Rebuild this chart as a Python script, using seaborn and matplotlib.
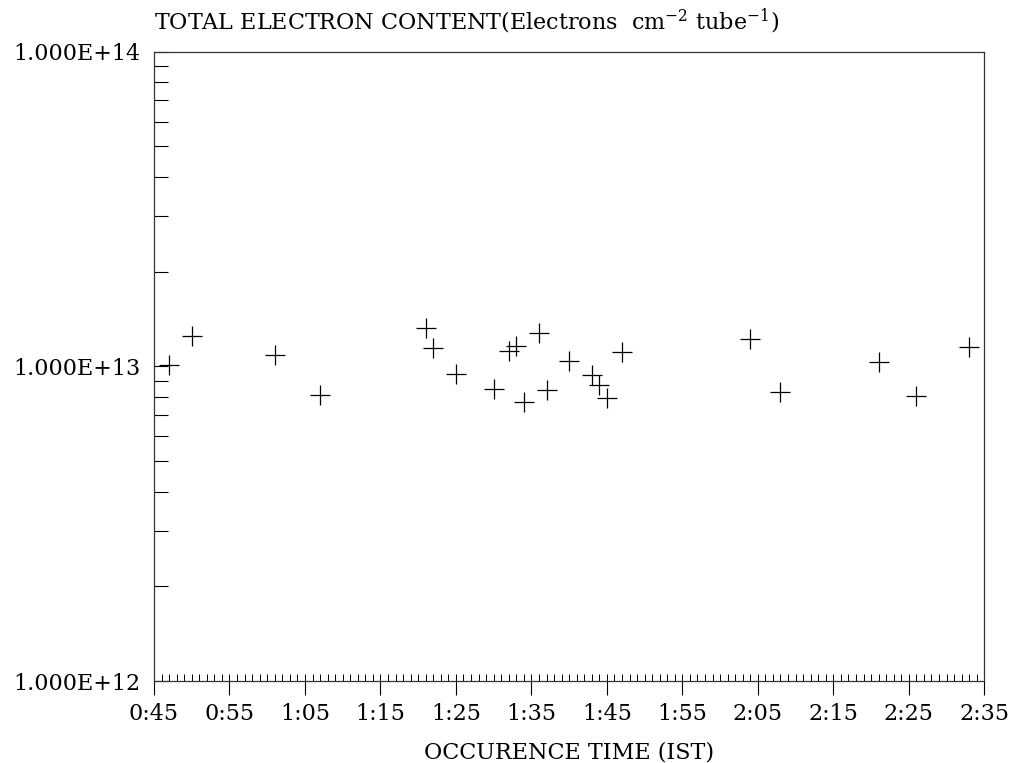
import numpy as np
import pandas as pd
import matplotlib
matplotlib.use("Agg")
import matplotlib.pyplot as plt
import matplotlib.ticker as mticker
import seaborn as sns

# occurrence time in minutes after midnight (IST)
minutes = [47, 50, 61, 67, 81, 82, 85, 90, 92, 93, 94, 96, 97, 100,
           103, 104, 105, 107, 124, 128, 141, 146, 153]
# total electron content (electrons cm^-2 tube^-1)
tec = [1.007e13, 1.251e13, 1.086e13, 0.809e13, 1.32e13, 1.146e13, 0.945e13,
       0.850e13, 1.119e13, 1.158e13, 0.770e13, 1.279e13, 0.839e13, 1.04e13,
       0.936e13, 0.874e13, 0.793e13, 1.108e13, 1.218e13, 0.830e13, 1.03e13,
       0.803e13, 1.154e13]

xticks = [45, 55, 65, 75, 85, 95, 105, 115, 125, 135, 145, 155]
xticklabels = ["0:45", "0:55", "1:05", "1:15", "1:25", "1:35", "1:45",
               "1:55", "2:05", "2:15", "2:25", "2:35"]
yticks = [1e12, 1e13, 1e14]
yticklabels = ["1.000E+12", "1.000E+13", "1.000E+14"]

df = pd.DataFrame({"time": minutes, "tec": tec})

sns.set_style("white")
plt.rcParams["font.family"] = ["DejaVu Serif"]
plt.rcParams["mathtext.fontset"] = "dejavuserif"
for k in ["text.color", "axes.labelcolor", "xtick.color", "ytick.color"]:
    plt.rcParams[k] = "black"

fig = plt.figure(figsize=(10.19, 7.63), dpi=100)
ax = fig.add_axes([154 / 1019, 1 - 681 / 763, (984.3 - 154) / 1019, (681 - 51.7) / 763])

sns.scatterplot(data=df, x="time", y="tec", marker="+", s=210, color="black",
                linewidth=0.9, ax=ax, legend=False)

ax.set_yscale("log")
ax.set_xlim(45, 155)
ax.set_ylim(1e12, 1e14)

ax.set_xticks(xticks)
ax.set_xticklabels(xticklabels, fontsize=16)
ax.xaxis.set_minor_locator(mticker.MultipleLocator(1))
ax.xaxis.remove_overlapping_locs = False
ax.tick_params(axis="x", which="major", direction="out", length=10, width=0.8,
               pad=6, bottom=True)
ax.tick_params(axis="x", which="minor", direction="in", length=5, width=0.7,
               bottom=True)

ax.set_yticks(yticks)
ax.set_yticklabels(yticklabels, fontsize=16)
ax.yaxis.set_minor_locator(mticker.LogLocator(base=10, subs=np.arange(2, 10)))
ax.yaxis.set_minor_formatter(mticker.NullFormatter())
ax.tick_params(axis="y", which="both", direction="in", length=10, width=0.8,
               pad=10, left=True)

for sp in ax.spines.values():
    sp.set_color("#333333")
    sp.set_linewidth(0.9)

ax.set_xlabel("OCCURENCE TIME (IST)", fontsize=16, labelpad=12)
ax.set_ylabel("")
ax.set_title(r"TOTAL ELECTRON CONTENT(Electrons  cm$^{-2}$ tube$^{-1}$)",
             loc="left", fontsize=16, pad=16)

fig.savefig("out.png", dpi=100)
